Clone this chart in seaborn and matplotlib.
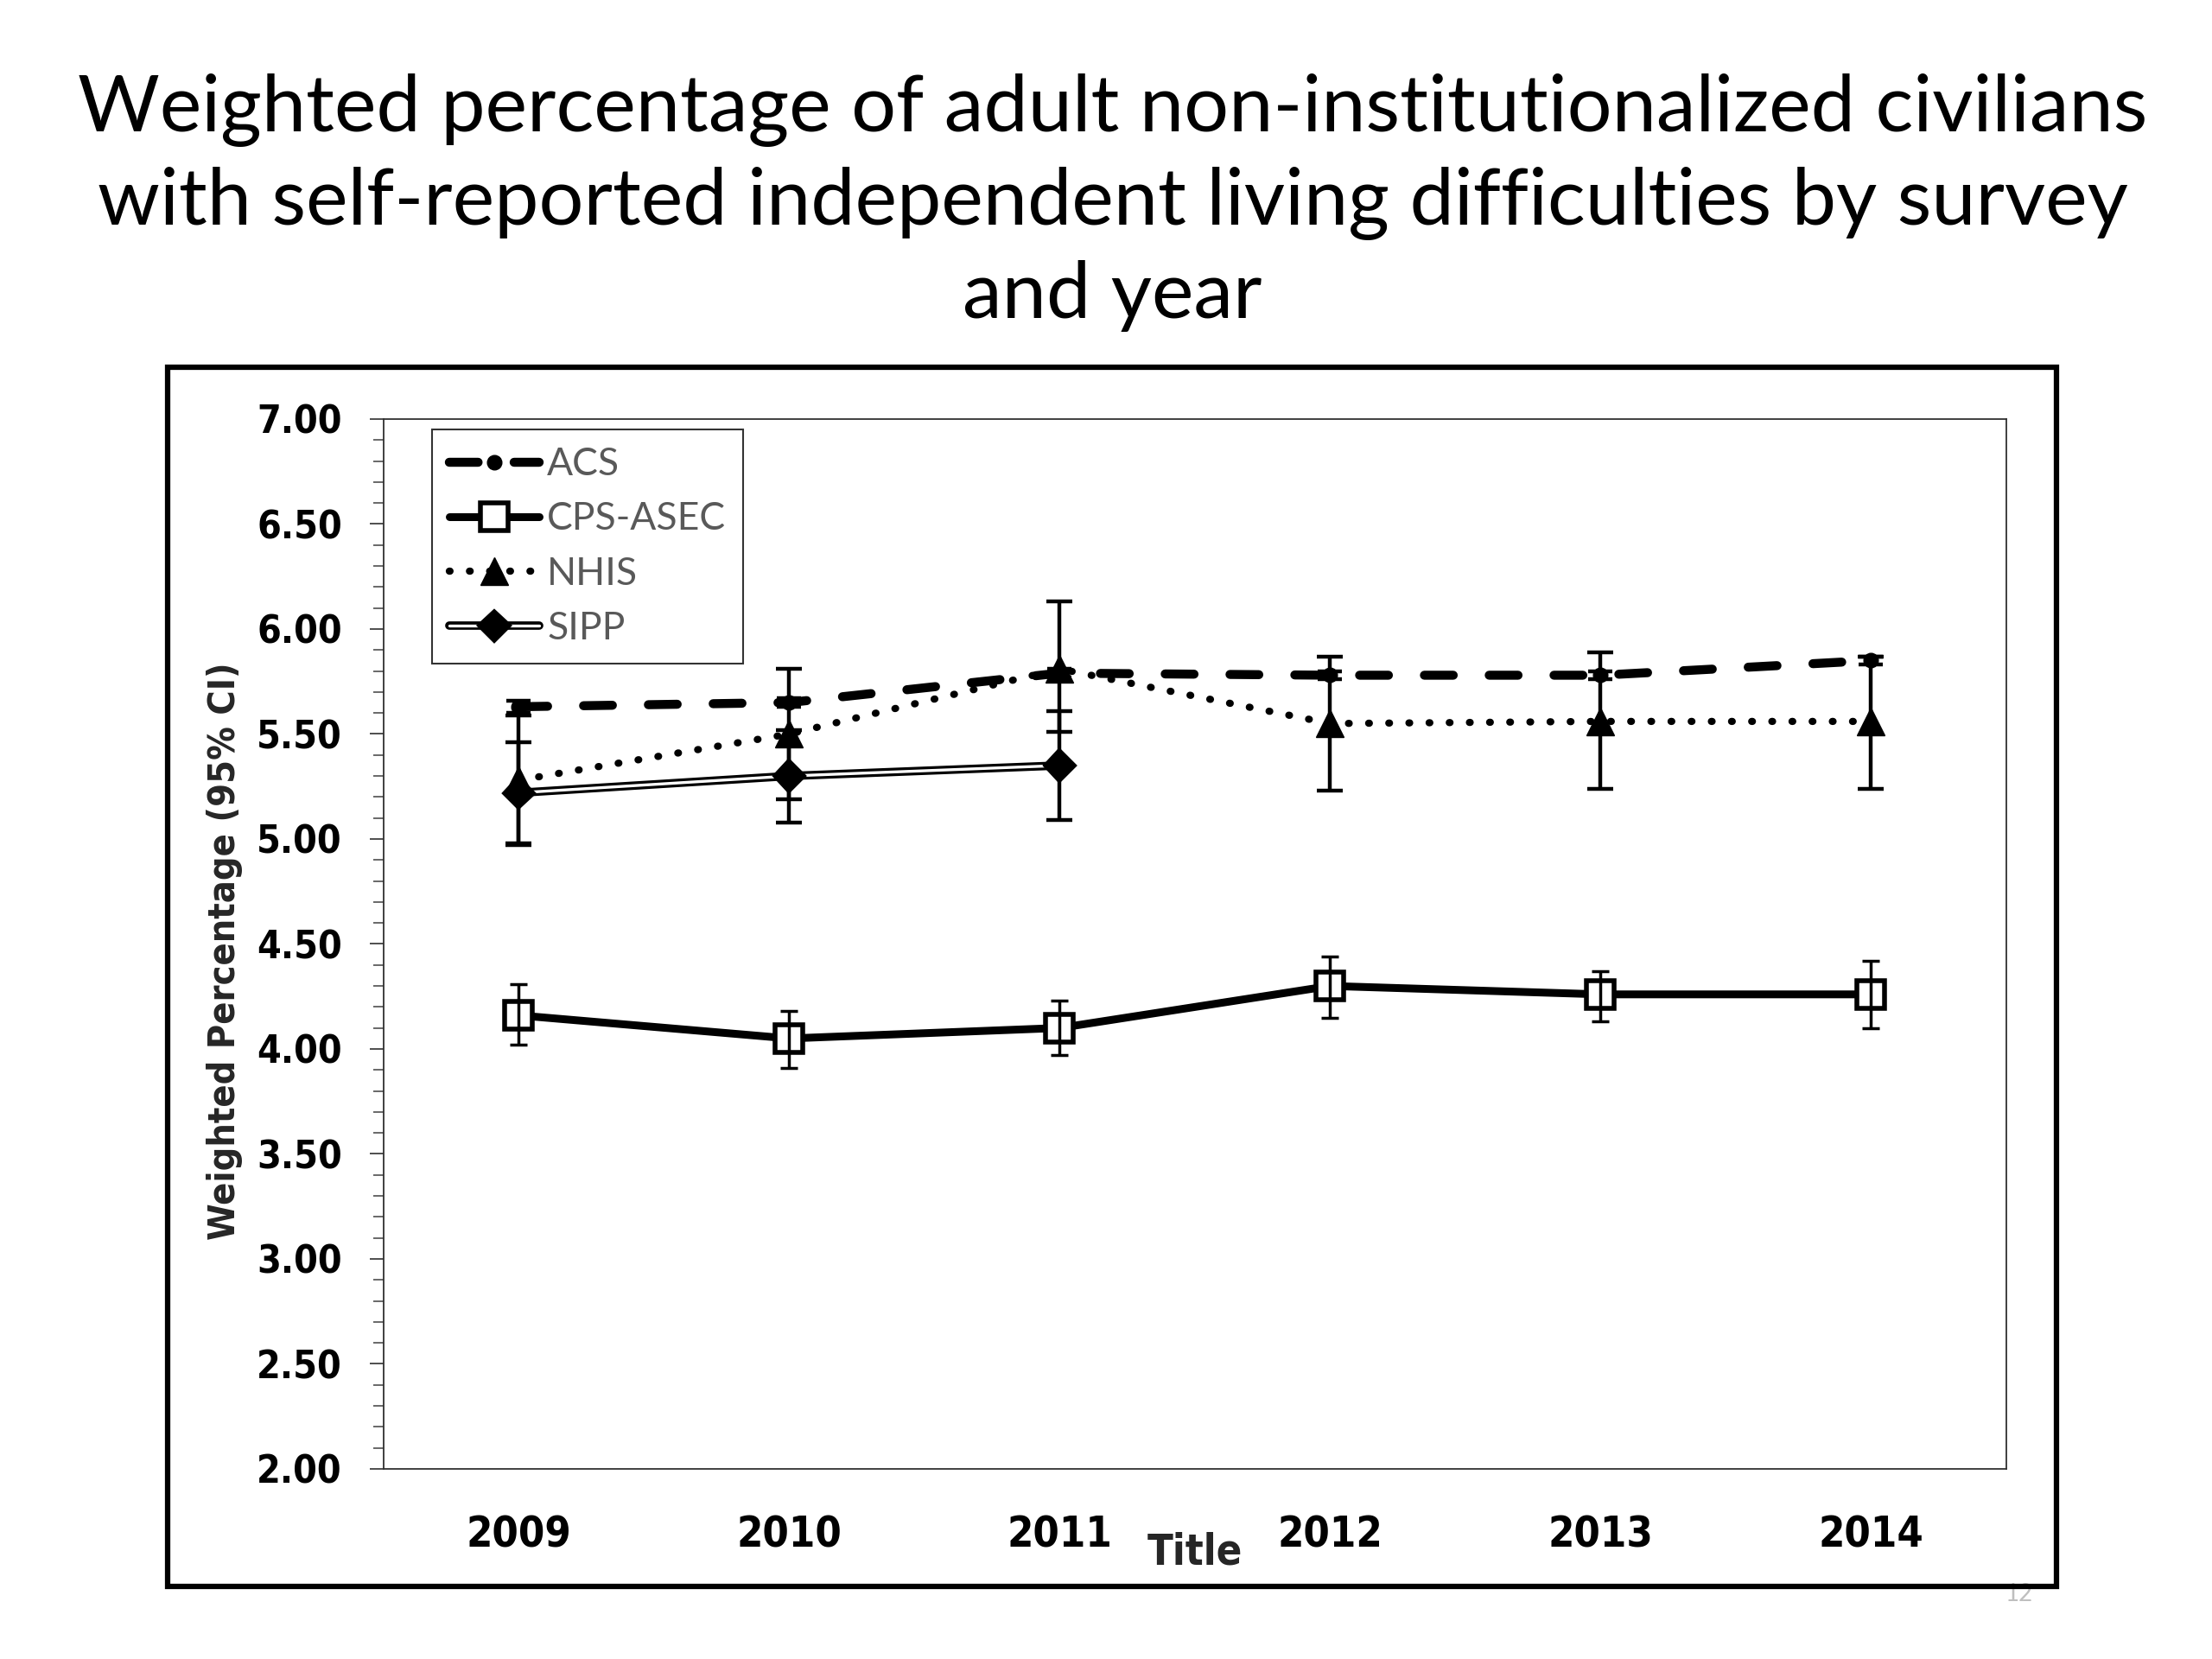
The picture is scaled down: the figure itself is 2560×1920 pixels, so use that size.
import numpy as np
import matplotlib
matplotlib.use("Agg")
import matplotlib.pyplot as plt
import matplotlib.patheffects as pe
from matplotlib import font_manager as fm
from matplotlib.lines import Line2D
from matplotlib.patches import Rectangle
from matplotlib.ticker import MultipleLocator, FormatStrFormatter
import seaborn as sns

# Data (weighted %, with 95% CI bounds)
years = ['2009', '2010', '2011', '2012', '2013', '2014']

acs = [5.63, 5.65, 5.79, 5.78, 5.78, 5.85]
acs_lo = [5.60, 5.63, 5.77, 5.76, 5.76, 5.83]
acs_hi = [5.66, 5.67, 5.81, 5.80, 5.80, 5.87]

cps = [4.16, 4.05, 4.10, 4.30, 4.26, 4.26]
cps_lo = [4.02, 3.91, 3.97, 4.15, 4.13, 4.10]
cps_hi = [4.31, 4.18, 4.23, 4.44, 4.37, 4.42]

nhis = [5.28, 5.50, 5.81, 5.55, 5.56, 5.56]
nhis_lo = [4.97, 5.19, 5.51, 5.23, 5.24, 5.24]
nhis_hi = [5.59, 5.81, 6.13, 5.87, 5.89, 5.87]

sipp_years = ['2009', '2010', '2011']
sipp = [5.22, 5.30, 5.35]
sipp_lo = [4.98, 5.08, 5.09]
sipp_hi = [5.46, 5.52, 5.61]

TITLE = ('Weighted percentage of adult non-institutionalized civilians\n'
         'with self-reported independent living difficulties by survey\n'
         'and year')
YLABEL = 'Weighted Percentage (95% CI)'

sns.set_style('ticks')
plt.rcParams['font.family'] = ['Lato', 'DejaVu Sans']
plt.rcParams['text.color'] = 'black'
plt.rcParams['xtick.labelcolor'] = 'black'
plt.rcParams['ytick.labelcolor'] = 'black'

# condensed bold stands in for the slide's Calibri bold axis text
tick_fp = fm.FontProperties(family='DejaVu Sans', stretch='condensed', weight='bold', size=35)
ytick_fp = fm.FontProperties(family='DejaVu Sans', stretch='condensed', weight='bold', size=32)
ylab_fp = fm.FontProperties(family='DejaVu Sans', stretch='condensed', weight='bold', size=31)

fig = plt.figure(figsize=(25.6, 19.2), dpi=100)
fig.patch.set_facecolor('white')
ax = fig.add_axes([0.1734, 0.1146, 0.7336, 0.6328])

pos = {y: i for i, y in enumerate(years)}
x = np.array([pos[y] for y in years])
xs = np.array([pos[y] for y in sipp_years])

acs_style = dict(color='black', lw=7.5, linestyle=(0, (3.2, 4.0)), dash_capstyle='round',
                 marker='o', markersize=12, markerfacecolor='black',
                 markeredgecolor='black', markeredgewidth=1)
cps_style = dict(color='black', lw=6.5, linestyle='-', solid_joinstyle='round',
                 marker='s', markersize=23, markerfacecolor='white',
                 markeredgecolor='black', markeredgewidth=4)
nhis_style = dict(color='black', lw=6, linestyle=(0, (0.1, 2.7)), dash_capstyle='round',
                  marker='^', markersize=23, markerfacecolor='black',
                  markeredgecolor='black', markeredgewidth=1)
sipp_style = dict(color='white', lw=2.4, linestyle='-',
                  marker='D', markersize=14, markerfacecolor='black',
                  markeredgecolor='black', markeredgewidth=1,
                  path_effects=[pe.Stroke(linewidth=7, foreground='black'), pe.Normal()])

series = [
    ('ACS', x, acs, acs_lo, acs_hi, acs_style, 10),
    ('CPS-ASEC', x, cps, cps_lo, cps_hi, cps_style, 7),
    ('NHIS', x, nhis, nhis_lo, nhis_hi, nhis_style, 11),
    ('SIPP', xs, sipp, sipp_lo, sipp_hi, sipp_style, 11),
]

for name, xv, vals, lo, hi, style, cap in series:
    vals = np.asarray(vals)
    sns.lineplot(x=xv, y=vals, ax=ax, errorbar=None, legend=False, sort=False, **style)
    ax.errorbar(xv, vals, yerr=[vals - np.asarray(lo), np.asarray(hi) - vals],
                fmt='none', ecolor='black', elinewidth=3.2 if cap > 8 else 2.5,
                capsize=cap, capthick=3.2 if cap > 8 else 2.5, zorder=5)

ax.set_xlim(-0.5, len(years) - 0.5)
ax.set_ylim(2.0, 7.0)
ax.set_xticks(x)
ax.set_xticklabels(years, fontproperties=tick_fp)
ax.yaxis.set_major_locator(MultipleLocator(0.5))
ax.yaxis.set_minor_locator(MultipleLocator(0.1))
ax.yaxis.set_major_formatter(FormatStrFormatter('%.2f'))
ax.tick_params(axis='y', which='major', direction='out', length=11.5, width=1.3,
               pad=23, color='#404040')
ax.tick_params(axis='y', which='minor', direction='out', length=8.5, width=1.1,
               color='#404040')
ax.tick_params(axis='x', length=0, pad=38)
fig.canvas.draw()
for lbl in ax.get_yticklabels():
    lbl.set_fontproperties(ytick_fp)
for s in ax.spines.values():
    s.set_linewidth(1.3)
    s.set_color('#303030')

ax.set_ylabel(YLABEL, fontproperties=ylab_fp)
ax.yaxis.set_label_coords(-0.0865, 0.493)
ax.set_xlabel('Title', fontproperties=tick_fp)
ax.xaxis.set_label_coords(0.5, -0.06)

handles = [Line2D([], [], **st) for _, _, _, _, _, st, _ in series]
leg = ax.legend(handles, [s[0] for s in series], loc='upper left',
                bbox_to_anchor=(0.0298, 0.990), borderaxespad=0, fancybox=False,
                frameon=True, edgecolor='black', fontsize=32, handlelength=2.35,
                handletextpad=0.2, labelspacing=0.5, borderpad=0.45)
leg.get_frame().set_linewidth(1.5)
for t in leg.get_texts():
    t.set_color('#595959')

fig.text(0.503, 0.878, TITLE, ha='center', va='center', fontsize=66,
         linespacing=1.34, color='black')

fig.text(2337 / 2560, 1 - 1845 / 1920, '12', ha='center', va='center',
         fontsize=20, color='#BFBFBF')
fig.add_artist(Rectangle((194 / 2560, 1 - 1836 / 1920), (2380 - 194) / 2560,
                         (1836 - 425) / 1920, transform=fig.transFigure,
                         fill=False, lw=4.5, ec='black', zorder=10))

fig.savefig('out.png', dpi=100, facecolor='white')
